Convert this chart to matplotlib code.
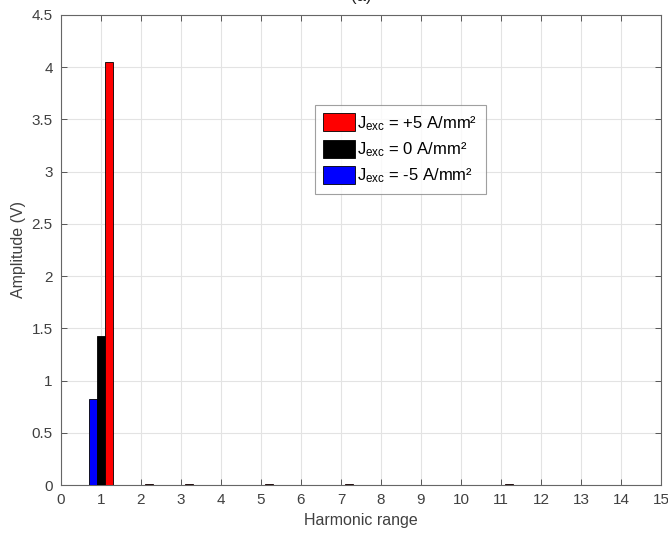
import matplotlib
matplotlib.use("Agg")
import matplotlib.pyplot as plt
import numpy as np

plt.rcParams['font.family'] = ['Liberation Sans', 'DejaVu Sans']
plt.rcParams['mathtext.fontset'] = 'custom'
plt.rcParams['mathtext.rm'] = 'Liberation Sans'
plt.rcParams['mathtext.it'] = 'Liberation Sans'

harmonics = list(range(1, 16))
amp_pos5 = [4.05, 0.012, 0.012, 0, 0.012, 0, 0.012, 0, 0, 0, 0.012, 0, 0, 0, 0]
amp_0 = [1.43, 0, 0, 0, 0, 0, 0, 0, 0, 0, 0, 0, 0, 0, 0]
amp_neg5 = [0.82, 0, 0, 0, 0, 0, 0, 0, 0, 0, 0, 0, 0, 0, 0]
labels = [r'J$_{\mathrm{exc}}$ = +5 A/mm²', r'J$_{\mathrm{exc}}$ = 0 A/mm²', r'J$_{\mathrm{exc}}$ = -5 A/mm²']
xticks = list(range(0, 16))
yticks = [0, 0.5, 1, 1.5, 2, 2.5, 3, 3.5, 4, 4.5]

fig = plt.figure(figsize=(6.68, 5.33), dpi=100)
ax = fig.add_axes([0.0913, 0.09, 0.8982, 0.882])

x = np.array(harmonics, dtype=float)
w = 0.2
b_neg = ax.bar(x - w, amp_neg5, width=w, color='#0000ff', edgecolor='black', linewidth=0.6, zorder=3)
b_0 = ax.bar(x, amp_0, width=w, color='#000000', edgecolor='black', linewidth=0.6, zorder=3)
b_pos = ax.bar(x + w, amp_pos5, width=w, color='#ff0000', edgecolor='black', linewidth=0.6, zorder=3)

ax.set_xlim(0, 15)
ax.set_ylim(0, 4.5)
ax.set_xticks(xticks)
ax.set_yticks(yticks)
ax.set_yticklabels(['0', '0.5', '1', '1.5', '2', '2.5', '3', '3.5', '4', '4.5'])
ax.grid(True, color='#e3e3e3', linewidth=0.8, zorder=0)
ax.set_axisbelow(True)
ax.tick_params(direction='in', top=True, right=True, labelsize=11, colors='#404040',
               length=4, width=0.6, pad=6)
for s in ax.spines.values():
    s.set_color('#666666')
    s.set_linewidth(0.8)

ax.set_xlabel('Harmonic range', fontsize=11.5, color='#404040', labelpad=4)
ax.set_ylabel('Amplitude (V)', fontsize=11.5, color='#404040', labelpad=4)
ax.set_title('(a)', fontsize=12, color='#202020', pad=10)

leg = ax.legend([b_pos, b_0, b_neg], labels, loc='upper left',
                bbox_to_anchor=(0.423, 0.8085), fontsize=12, frameon=True,
                fancybox=False, edgecolor='#888888', handlelength=1.9,
                handleheight=1.3, handletextpad=0.15, labelspacing=0.42,
                borderpad=0.5, borderaxespad=0)
leg.get_frame().set_linewidth(0.8)

fig.savefig('out.png', dpi=100)
